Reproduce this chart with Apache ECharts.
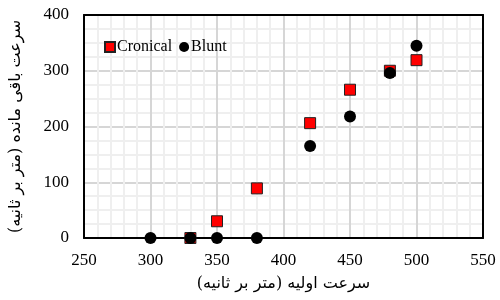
<!DOCTYPE html>
<html>
<head>
<meta charset="utf-8">
<script src="https://cdn.jsdelivr.net/npm/echarts@6/dist/echarts.min.js"></script>
<style>
  html, body { margin: 0; padding: 0; background: #fff; }
  #chart { width: 500px; height: 300px; }
</style>
</head>
<body>
<div id="chart"></div>
<script>
// سرعت اولیه (x) و سرعت باقی مانده (y)
const cronicalX = [330, 350, 380, 420, 450, 480, 500]
const cronicalY = [0, 30, 89, 206, 266, 300, 319]
const bluntX = [300, 330, 350, 380, 420, 450, 480, 500]
const bluntY = [0, 0, 0, 0, 165, 218, 296, 345]

const xTitle = 'سرعت اولیه (متر بر ثانیه)'
const yTitle = 'سرعت باقی مانده (متر بر ثانیه)'

const serif = 'Liberation Serif'
const arabic = 'DejaVu Serif, DejaVu Sans'

function pairs (xs, ys) {
  return xs.map((x, i) => [x, ys[i]])
}

// frame-only axes for the top and right edges
const frameAxis = {
  type: 'value',
  axisLine: { show: true, onZero: false, lineStyle: { color: '#000', width: 2 } },
  axisTick: { show: false },
  axisLabel: { show: false },
  splitLine: { show: false }
}

const chart = echarts.init(document.getElementById('chart'))
chart.setOption({
  animation: false,
  grid: {
    left: 83,
    right: 17,
    top: 15,
    bottom: 62
  },
  legend: {
    left: 99,
    top: 34,
    itemWidth: 10,
    itemHeight: 10,
    itemGap: 7,
    textStyle: { fontFamily: serif, fontSize: 16, color: '#000', padding: [0, 0, 0, -3] },
    data: ['Cronical', 'Blunt']
  },
  xAxis: [{
    type: 'value',
    min: 250,
    max: 550,
    interval: 50,
    name: xTitle,
    nameLocation: 'middle',
    nameGap: 38,
    nameTextStyle: { fontFamily: arabic, fontSize: 16, color: '#000' },
    axisLine: { show: true, onZero: false, lineStyle: { color: '#000', width: 2 } },
    axisTick: { show: false },
    axisLabel: { fontFamily: serif, fontSize: 17, color: '#000', margin: 14 },
    splitLine: { show: true, lineStyle: { color: '#d6d6d6', width: 2 } },
    minorTick: { show: false, splitNumber: 5 },
    minorSplitLine: { show: true, lineStyle: { color: '#efefef', width: 2 } }
  }, Object.assign({}, frameAxis, { position: 'top', min: 250, max: 550 })],
  yAxis: [{
    type: 'value',
    min: 0,
    max: 400,
    interval: 100,
    name: yTitle,
    nameLocation: 'middle',
    nameGap: 60,
    nameTextStyle: { fontFamily: arabic, fontSize: 16, color: '#000' },
    axisLine: { show: true, onZero: false, lineStyle: { color: '#000', width: 2 } },
    axisTick: { show: false },
    axisLabel: { fontFamily: serif, fontSize: 17, color: '#000', margin: 15 },
    splitLine: { show: true, lineStyle: { color: '#d6d6d6', width: 2 } },
    minorTick: { show: false, splitNumber: 4 },
    minorSplitLine: { show: true, lineStyle: { color: '#efefef', width: 2 } }
  }, Object.assign({}, frameAxis, { position: 'right', min: 0, max: 400 })],
  series: [
    {
      name: 'Cronical',
      type: 'scatter',
      symbol: 'rect',
      symbolSize: 11,
      clip: false,
      itemStyle: { color: '#ff0000', borderColor: '#222', borderWidth: 1, opacity: 1 },
      data: pairs(cronicalX, cronicalY),
      z: 3
    },
    {
      name: 'Blunt',
      type: 'scatter',
      symbol: 'circle',
      symbolSize: 12,
      clip: false,
      itemStyle: { color: '#000', opacity: 1 },
      data: pairs(bluntX, bluntY),
      z: 4
    }
  ]
})
</script>
</body>
</html>
